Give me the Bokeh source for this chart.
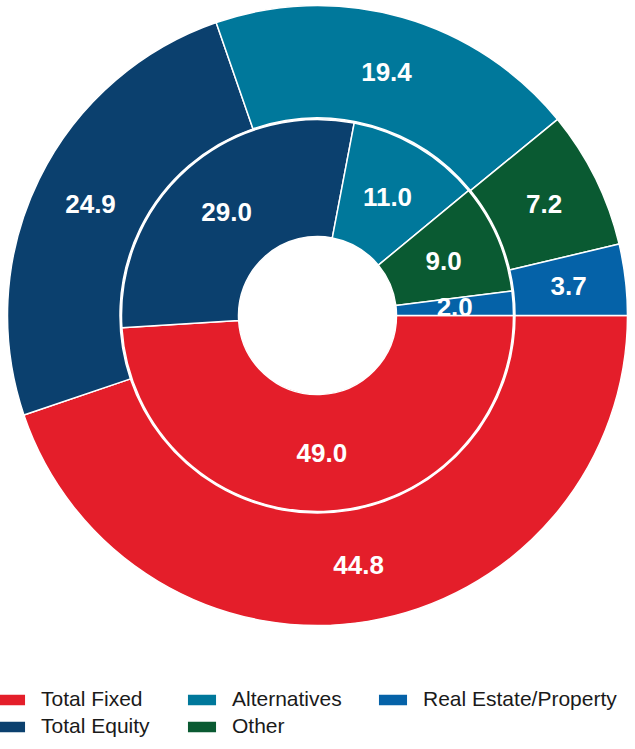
import numpy as np
from bokeh.plotting import figure
from bokeh.models import Range1d, ColumnDataSource, Legend, LegendItem
from bokeh.core.properties import value
from bokeh.embed import file_html
from bokeh.resources import INLINE

# ---- data ----
categories = ["Total Fixed", "Total Equity", "Alternatives", "Other", "Real Estate/Property"]
outer_values = [44.8, 24.9, 19.4, 7.2, 3.7]
inner_values = [49.0, 29.0, 11.0, 9.0, 2.0]
colors = ["#E41E2A", "#0B406E", "#00789B", "#0A5A32", "#0562A8"]

W, H = 627, 741
p = figure(width=W, height=H, output_backend="svg", toolbar_location=None,
           x_range=Range1d(0, W), y_range=Range1d(0, H), min_border=0)
p.axis.visible = False
p.grid.visible = False
p.outline_line_color = None
p.background_fill_color = "white"
p.border_fill_color = "white"

cx, cy = 317, H - 315
hole_r, inner_r, outer_in_r, outer_r = 79, 196, 197.5, 310


def ring_source(vals, r_label):
    v = np.array(vals, dtype=float)
    frac = v / v.sum()
    cum = np.concatenate([[0.0], np.cumsum(frac)])
    start = -cum[:-1] * 2 * np.pi
    end = -cum[1:] * 2 * np.pi
    mid = (start + end) / 2
    return ColumnDataSource(dict(
        cat=categories, color=colors, start=start, end=end,
        lx=cx + r_label * np.cos(mid), ly=cy + r_label * np.sin(mid),
        label=["%.1f" % x for x in v]))


src_in = ring_source(inner_values, (hole_r + inner_r) / 2)
src_out = ring_source(outer_values, (outer_in_r + outer_r) / 2 - 1)

r_out = p.annular_wedge(x=cx, y=cy, inner_radius=outer_in_r, outer_radius=outer_r,
                        start_angle="start", end_angle="end", direction="clock",
                        fill_color="color", line_color="white", line_width=1.5,
                        source=src_out)
r_in = p.annular_wedge(x=cx, y=cy, inner_radius=hole_r, outer_radius=inner_r,
                       start_angle="start", end_angle="end", direction="clock",
                       fill_color="color", line_color="white", line_width=1.5,
                       source=src_in)

for s in (src_out, src_in):
    p.text(x="lx", y="ly", text="label", source=s, text_color="white",
           text_font=value("Liberation Sans"), text_font_style="bold",
           text_font_size="26px", text_align="center", text_baseline="middle")

items = [LegendItem(label=c, renderers=[r_out], index=i) for i, c in enumerate(categories)]
legend = Legend(items=items, orientation="vertical", nrows=2,
                location=(-8, 3), glyph_width=37, glyph_height=15,
                label_text_font="Liberation Sans", label_text_font_size="21px",
                label_text_color="#1A1A1A", label_standoff=12, spacing=3,
                label_width=139, label_height=18,
                padding=0, margin=0, border_line_alpha=0, background_fill_alpha=0)
p.add_layout(legend)

open("out.html", "w").write(file_html(p, INLINE))
